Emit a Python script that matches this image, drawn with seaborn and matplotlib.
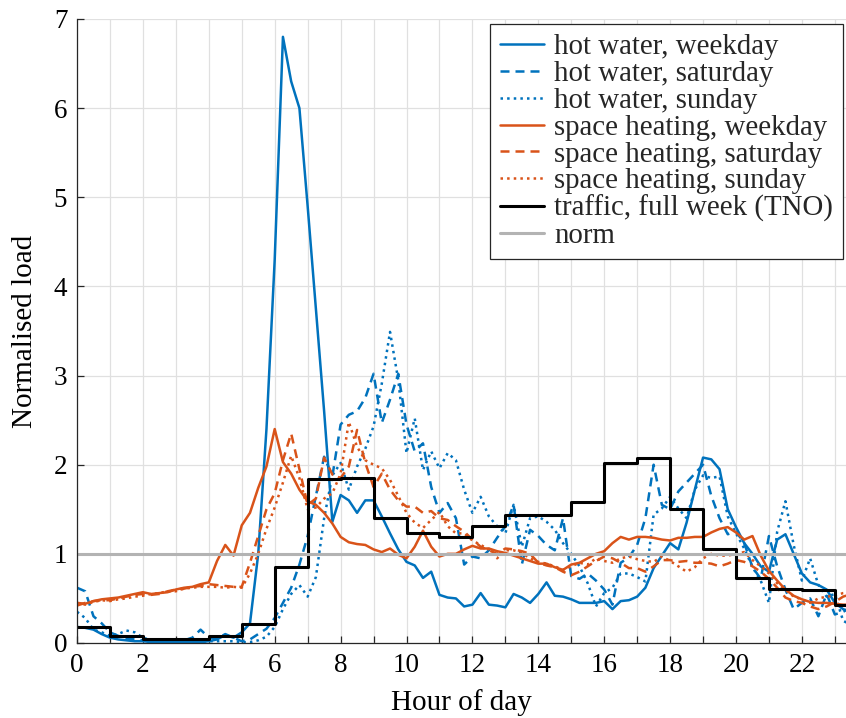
import numpy as np
import pandas as pd
import seaborn as sns
import matplotlib
matplotlib.use("Agg")
import matplotlib.pyplot as plt

# Quarter-hour time axis (hours of the day)
hours = [i / 4 for i in range(96)]

hot_water_weekday = [
    0.18, 0.17, 0.15, 0.10, 0.06, 0.04, 0.03, 0.02, 0.02, 0.01, 0.01, 0.01,
    0.01, 0.01, 0.01, 0.01, 0.02, 0.04, 0.09, 0.06, 0.12, 0.22, 1.00, 2.40,
    4.30, 6.80, 6.30, 6.00, 4.90, 3.75, 2.60, 1.36, 1.66, 1.60, 1.46, 1.60,
    1.60, 1.42, 1.23, 1.05, 0.91, 0.87, 0.73, 0.80, 0.54, 0.51, 0.50, 0.41,
    0.43, 0.56, 0.43, 0.42, 0.40, 0.55, 0.51, 0.45, 0.55, 0.68, 0.53, 0.52,
    0.49, 0.45, 0.45, 0.45, 0.47, 0.38, 0.47, 0.48, 0.52, 0.62, 0.84, 0.98,
    1.12, 1.05, 1.35, 1.72, 2.08, 2.06, 1.95, 1.50, 1.30, 1.12, 1.00, 0.86,
    0.80, 1.16, 1.22, 1.00, 0.78, 0.68, 0.65, 0.60, 0.45, 0.38, 0.35, 0.33,
]
hot_water_saturday = [
    0.62, 0.58, 0.30, 0.22, 0.12, 0.08, 0.05, 0.04, 0.03, 0.02, 0.02, 0.02,
    0.02, 0.03, 0.06, 0.15, 0.06, 0.05, 0.10, 0.06, 0.02, 0.04, 0.10, 0.16,
    0.28, 0.45, 0.62, 0.88, 1.20, 1.65, 2.09, 1.87, 2.45, 2.56, 2.60, 2.75,
    3.02, 2.47, 2.73, 3.02, 2.45, 2.15, 2.24, 1.75, 1.46, 1.57, 1.40, 0.88,
    0.97, 0.95, 1.04, 1.18, 1.31, 1.55, 0.88, 1.27, 1.20, 1.10, 1.04, 1.40,
    0.75, 0.72, 0.78, 0.70, 0.60, 0.43, 0.90, 0.96, 1.10, 1.40, 2.00, 1.55,
    1.50, 1.70, 1.80, 1.90, 2.00, 1.65, 1.40, 1.22, 1.25, 1.12, 0.85, 0.72,
    1.20, 0.86, 0.60, 0.38, 0.45, 0.50, 0.30, 0.55, 0.32, 0.35, 0.40, 0.40,
]
hot_water_sunday = [
    0.35, 0.28, 0.15, 0.12, 0.08, 0.10, 0.14, 0.12, 0.06, 0.03, 0.02, 0.02,
    0.02, 0.02, 0.01, 0.01, 0.02, 0.02, 0.02, 0.02, 0.01, 0.01, 0.03, 0.07,
    0.18, 0.38, 0.55, 0.65, 0.52, 0.74, 1.40, 1.88, 2.02, 1.72, 1.98, 2.18,
    2.43, 2.91, 3.49, 2.95, 2.13, 2.52, 1.94, 2.15, 1.96, 2.13, 2.05, 1.72,
    1.46, 1.64, 1.42, 1.31, 1.23, 1.55, 1.08, 1.40, 1.42, 1.36, 1.27, 1.12,
    1.00, 0.86, 0.67, 0.41, 0.56, 0.62, 0.78, 0.78, 0.74, 0.69, 1.44, 1.51,
    1.64, 1.51, 1.40, 1.72, 1.88, 1.85, 1.87, 1.42, 1.23, 1.06, 0.85, 0.70,
    0.45, 1.25, 1.59, 1.10, 0.70, 0.95, 0.65, 0.52, 0.55, 0.25, 0.20, 0.20,
]
heating_weekday = [
    0.45, 0.44, 0.47, 0.49, 0.50, 0.51, 0.53, 0.55, 0.57, 0.55, 0.56, 0.57,
    0.60, 0.62, 0.63, 0.66, 0.68, 0.92, 1.10, 0.98, 1.32, 1.46, 1.74, 1.98,
    2.40, 2.03, 1.90, 1.72, 1.59, 1.55, 1.46, 1.34, 1.19, 1.13, 1.11, 1.10,
    1.05, 1.02, 1.06, 0.99, 0.95, 1.08, 1.26, 1.08, 0.97, 1.00, 1.00, 1.05,
    1.09, 1.06, 1.06, 1.03, 1.01, 0.98, 0.95, 0.92, 0.89, 0.89, 0.85, 0.82,
    0.88, 0.90, 0.95, 1.00, 1.03, 1.12, 1.19, 1.16, 1.19, 1.19, 1.18, 1.16,
    1.15, 1.18, 1.18, 1.19, 1.19, 1.24, 1.28, 1.30, 1.24, 1.16, 1.20, 0.98,
    0.81, 0.70, 0.60, 0.53, 0.49, 0.46, 0.45, 0.45, 0.44, 0.43, 0.43, 0.43,
]
heating_saturday = [
    0.42, 0.45, 0.47, 0.48, 0.48, 0.50, 0.52, 0.54, 0.55, 0.54, 0.55, 0.58,
    0.60, 0.61, 0.63, 0.64, 0.66, 0.65, 0.64, 0.63, 0.63, 0.90, 1.20, 1.50,
    1.68, 2.05, 2.35, 1.95, 1.55, 1.62, 2.08, 1.89, 1.85, 1.98, 2.39, 2.02,
    1.75, 1.90, 1.72, 1.60, 1.53, 1.53, 1.46, 1.48, 1.40, 1.38, 1.31, 1.25,
    1.16, 1.08, 1.04, 1.00, 1.06, 1.05, 1.03, 1.00, 0.90, 0.87, 0.85, 0.80,
    0.76, 0.80, 0.86, 0.92, 0.97, 0.95, 0.90, 0.84, 0.84, 0.80, 0.86, 0.93,
    0.93, 0.91, 0.92, 0.90, 0.90, 0.89, 0.86, 0.89, 0.93, 0.91, 0.86, 0.80,
    0.72, 0.62, 0.51, 0.47, 0.45, 0.41, 0.38, 0.41, 0.46, 0.52, 0.55, 0.55,
]
heating_sunday = [
    0.45, 0.43, 0.46, 0.48, 0.47, 0.49, 0.50, 0.52, 0.53, 0.55, 0.56, 0.58,
    0.58, 0.61, 0.62, 0.63, 0.63, 0.63, 0.62, 0.63, 0.62, 0.78, 1.00, 1.28,
    1.52, 1.80, 2.10, 1.85, 1.50, 1.52, 1.62, 1.68, 1.90, 2.48, 2.20, 2.05,
    2.00, 1.96, 1.83, 1.65, 1.46, 1.35, 1.29, 1.38, 1.47, 1.31, 1.23, 1.23,
    1.15, 1.10, 1.05, 0.95, 1.04, 1.04, 1.01, 0.95, 0.91, 0.89, 0.86, 0.82,
    0.86, 0.90, 0.88, 0.95, 0.92, 0.90, 0.95, 0.97, 0.94, 0.92, 0.91, 0.97,
    0.92, 0.86, 0.80, 0.85, 0.95, 1.00, 0.98, 0.98, 1.00, 1.02, 0.93, 0.86,
    0.78, 0.67, 0.60, 0.52, 0.49, 0.45, 0.50, 0.52, 0.53, 0.56, 0.57, 0.57,
]

# Hourly traffic profile (step per hour)
traffic_hours = list(range(25))
traffic_full_week = [
    0.18, 0.08, 0.05, 0.04, 0.08, 0.21, 0.85, 1.84, 1.85, 1.40, 1.23, 1.19,
    1.31, 1.44, 1.44, 1.58, 2.02, 2.07, 1.50, 1.05, 0.73, 0.61, 0.60, 0.43,
]

x_ticks = list(range(24))
x_tick_labels = [str(h) if h % 2 == 0 else "" for h in x_ticks]
y_ticks = list(range(8))
y_tick_labels = [str(v) for v in y_ticks]

BLUE = "#0072BD"
ORANGE = "#D95319"
GREY = "#b3b3b3"

sns.set_theme(style="whitegrid")
plt.rcParams["font.family"] = ["Liberation Serif", "DejaVu Serif"]

fig = plt.figure(figsize=(8.46, 7.18), dpi=100)
ax = fig.add_axes([77 / 846, 75 / 718, 769 / 846, 624 / 718])
ax.set_facecolor("white")

lw = 1.8
dash = (0, (3.6, 2.4))
series = [
    (hot_water_weekday, BLUE, "-", "hot water, weekday"),
    (hot_water_saturday, BLUE, dash, "hot water, saturday"),
    (hot_water_sunday, BLUE, ":", "hot water, sunday"),
    (heating_weekday, ORANGE, "-", "space heating, weekday"),
    (heating_saturday, ORANGE, dash, "space heating, saturday"),
    (heating_sunday, ORANGE, ":", "space heating, sunday"),
]
for vals, col, ls, lab in series:
    sns.lineplot(x=hours, y=vals, ax=ax, color=col, linestyle=ls, linewidth=lw,
                 label=lab, estimator=None)

sns.lineplot(x=traffic_hours, y=traffic_full_week + [traffic_full_week[-1]], ax=ax,
             color="black", linewidth=2.2, drawstyle="steps-post",
             label="traffic, full week (TNO)", estimator=None)
ax.axhline(1.0, color=GREY, linewidth=2.2, label="norm")

ax.set_xlim(0, 769 / 32.95)
ax.set_ylim(0, 7)
ax.set_xticks(x_ticks)
ax.set_xticklabels(x_tick_labels)
ax.set_yticks(y_ticks)
ax.set_yticklabels(y_tick_labels)

ax.grid(True, color="#e0e0e0", linewidth=0.9)
ax.set_axisbelow(True)
for side in ("top", "right"):
    ax.spines[side].set_visible(False)
for side in ("left", "bottom"):
    ax.spines[side].set_visible(True)
    ax.spines[side].set_color("#262626")
    ax.spines[side].set_linewidth(0.9)

ax.tick_params(axis="both", direction="in", length=5, width=0.9, color="#262626",
               labelsize=19.5, labelcolor="black", pad=7, left=True, bottom=True)

ax.set_xlabel("Hour of day", fontsize=21, color="black", labelpad=8)
ax.set_ylabel("Normalised load", fontsize=21, color="black", labelpad=11)

leg = ax.legend(loc="upper right", bbox_to_anchor=(0.996, 0.992), borderaxespad=0,
                fontsize=20.8, frameon=True, fancybox=False, framealpha=1,
                edgecolor="#262626", handlelength=1.5, handletextpad=0.35,
                labelspacing=0.02, borderpad=0.35)
leg.get_frame().set_linewidth(0.9)

fig.savefig("out.png", dpi=100)
